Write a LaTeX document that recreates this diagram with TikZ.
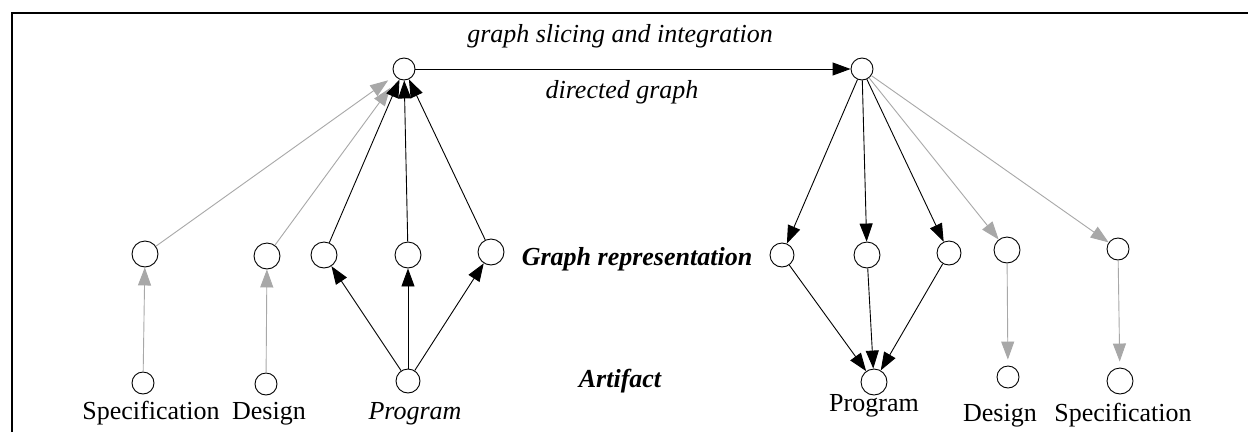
\documentclass[tikz,border=0pt]{standalone}
\usepackage{fontspec}
\setmainfont{Liberation Serif}
\usetikzlibrary{arrows.meta}
\definecolor{lgray}{HTML}{A8A8A8}
\begin{document}
\begin{tikzpicture}[x=1pt,y=-1pt,
  vtx/.style={draw, circle, minimum size=24pt, inner sep=0pt, line width=0.9pt},
  small/.style={minimum size=22pt},
  big/.style={minimum size=26pt},
  blk/.style={draw=black, line width=0.9pt, -{Triangle[length=18pt,width=13pt]}},
  gry/.style={draw=lgray, line width=0.9pt, -{Triangle[length=18pt,width=13pt,fill=lgray]}},
  lbl/.style={font=\fontsize{26}{30}\selectfont, anchor=base, inner sep=0pt},
  hdr/.style={font=\fontsize{26}{30}\selectfont\bfseries\itshape, anchor=base, inner sep=0pt},
  ital/.style={font=\fontsize{26}{30}\selectfont\itshape, anchor=base, inner sep=0pt}]
\useasboundingbox (0,0) rectangle (1248,432);
\fill[white] (0,0) rectangle (1248,432);
\draw[line width=2pt] (12,432) -- (12,12.7) -- (1248,12.7);

% top
\node[vtx,small] (TL) at (404,69) {};
\node[vtx,small] (TR) at (862,69) {};
% left middle
\node[vtx,big] (LS) at (145,254) {};
\node[vtx,big] (LD) at (267,256) {};
\node[vtx,big] (L1) at (324,255) {};
\node[vtx,big] (L2) at (408,255) {};
\node[vtx,big] (L3) at (491,252) {};
% left bottom
\node[vtx,small] (BS) at (143,383) {};
\node[vtx,small] (BD) at (266,384) {};
\node[vtx] (BP) at (408,381) {};
% right middle
\node[vtx] (R1) at (782,255) {};
\node[vtx,big] (R2) at (867,255) {};
\node[vtx] (R3) at (949,253) {};
\node[vtx,big] (RD) at (1007,250) {};
\node[vtx,small] (RS) at (1118,249) {};
% right bottom
\node[vtx,big] (RP) at (874,382) {};
\node[vtx,small] (RBD) at (1008,377) {};
\node[vtx,big] (RBS) at (1120,381) {};

% labels
\node[lbl] (tS) at (151,419) {Specification};
\node[lbl] (tD) at (269,419) {Design};
\node[ital] (tP) at (415,419) {Program};
\node[lbl] (tRP) at (874,411) {Program};
\node[lbl] (tRD) at (1000,421) {Design};
\node[lbl] (tRS) at (1123,421) {Specification};
\node[hdr] (tG) at (637,265) {Graph representation};
\node[hdr] (tA) at (620,387) {Artifact};
\node[ital] (tSl) at (620,42) {graph slicing and integration};
\node[ital] (tDg) at (622,98) {directed graph};

% top arrow
\draw[blk] (TL) -- (TR);

% left side
\draw[gry, shorten >=8pt] (LS) -- (TL);
\draw[gry, shorten >=12pt] (LD) -- (TL);
\draw[blk] (L1) -- (TL);
\draw[blk] (L2) -- (TL);
\draw[blk] (L3) -- (TL);
\draw[gry] (BS) -- (LS);
\draw[gry] (BD) -- (LD);
\draw[blk] (BP) -- (L1);
\draw[blk] (BP) -- (L2);
\draw[blk] (BP) -- (L3);

% right side
\draw[blk] (TR) -- (R1);
\draw[blk] (TR) -- (R2);
\draw[blk] (TR) -- (R3);
\draw[gry] (TR) -- (RD);
\draw[gry] (TR) -- (RS);
\draw[blk] (R1) -- (RP);
\draw[blk] (R2) -- (RP);
\draw[blk] (R3) -- (RP);
\draw[gry, shorten >=6pt] (RD) -- (RBD);
\draw[gry, shorten >=6pt] (RS) -- (RBS);
\end{tikzpicture}
\end{document}
